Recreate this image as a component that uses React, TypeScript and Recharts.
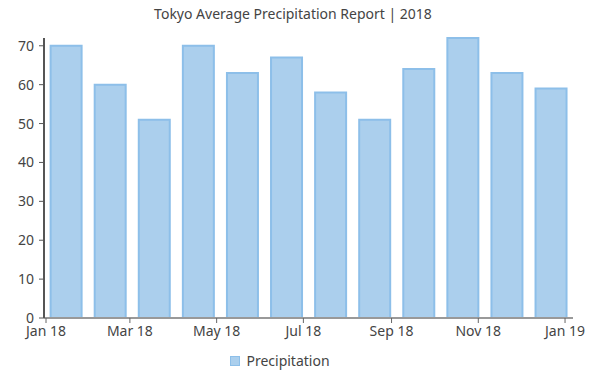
import React from "react";
import { BarChart, Bar, XAxis, YAxis, Legend } from "recharts";

const months = ["Jan", "Feb", "Mar", "Apr", "May", "Jun", "Jul", "Aug", "Sep", "Oct", "Nov", "Dec"];
const monthStartDay = [0, 31, 59, 90, 120, 151, 181, 212, 243, 273, 304, 334];
const precipitation = [70, 60, 51, 70, 63, 67, 58, 51, 64, 72, 63, 59];
const tickLabels = ["Jan 18", "Mar 18", "May 18", "Jul 18", "Sep 18", "Nov 18", "Jan 19"];
const tickDays = [0, 59, 120, 181, 243, 304, 365];
const yTicks = [0, 10, 20, 30, 40, 50, 60, 70];
const seriesName = "Precipitation";
const title = "Tokyo Average Precipitation Report | 2018";

const data = months.map((m, i) => ({ month: m, day: monthStartDay[i], value: precipitation[i] }));

const FONT = "'Noto Sans', 'Open Sans', sans-serif";
const TEXT = "#444";
const FILL = "#abcfed";
const STROKE = "#8dbfe9";

const LegendContent = () => (
  <div style={{ display: "flex", justifyContent: "center", alignItems: "center", fontFamily: FONT, fontSize: 14, color: TEXT }}>
    <span style={{ display: "inline-block", width: 10, height: 10, background: FILL, border: `1px solid ${STROKE}`, marginRight: 6, boxSizing: "border-box" }} />
    <span>{seriesName}</span>
  </div>
);

export default function App() {
  return (
    <div style={{ position: "absolute", left: 0, top: 0, width: 601, height: 376, background: "#fff" }}>
      <div
        style={{
          position: "absolute",
          left: 0,
          top: 4,
          width: 586,
          textAlign: "center",
          fontFamily: FONT,
          fontSize: 14,
          color: TEXT,
        }}
      >
        {title}
      </div>
      <BarChart
        width={601}
        height={376}
        data={data}
        margin={{ top: 38, right: 28, left: 0, bottom: 28 }}
        barCategoryGap="15%"
      >
        <XAxis xAxisId="cat" dataKey="month" hide height={0} padding={{ left: 0, right: 0 }} />
        <XAxis
          xAxisId="time"
          dataKey="day"
          type="number"
          scale="linear"
          domain={[-1.41, 370.6]}
          allowDataOverflow
          ticks={tickDays}
          tickFormatter={(v: number) => tickLabels[tickDays.indexOf(v)]}
          axisLine={{ stroke: "#999", strokeWidth: 2 }}
          tickLine={{ stroke: "#666" }}
          tickSize={5}
          tickMargin={3}
          height={30}
          interval={0}
          tick={{ fill: TEXT, fontSize: 14, fontFamily: FONT }}
        />
        <YAxis
          domain={[0, 72]}
          ticks={yTicks}
          width={44}
          axisLine={{ stroke: "#555", strokeWidth: 2 }}
          tickLine={{ stroke: "#555" }}
          tickSize={5}
          tickMargin={5}
          interval={0}
          tick={{ fill: TEXT, fontSize: 14, fontFamily: FONT }}
        />
        <Legend
          layout="horizontal"
          verticalAlign="middle"
          align="center"
          wrapperStyle={{ top: 351, left: 0, width: 560 }}
          content={<LegendContent />}
        />
        <Bar
          xAxisId="cat"
          dataKey="value"
          name={seriesName}
          fill={FILL}
          stroke={STROKE}
          strokeWidth={2}
          isAnimationActive={false}
        />
      </BarChart>
    </div>
  );
}
